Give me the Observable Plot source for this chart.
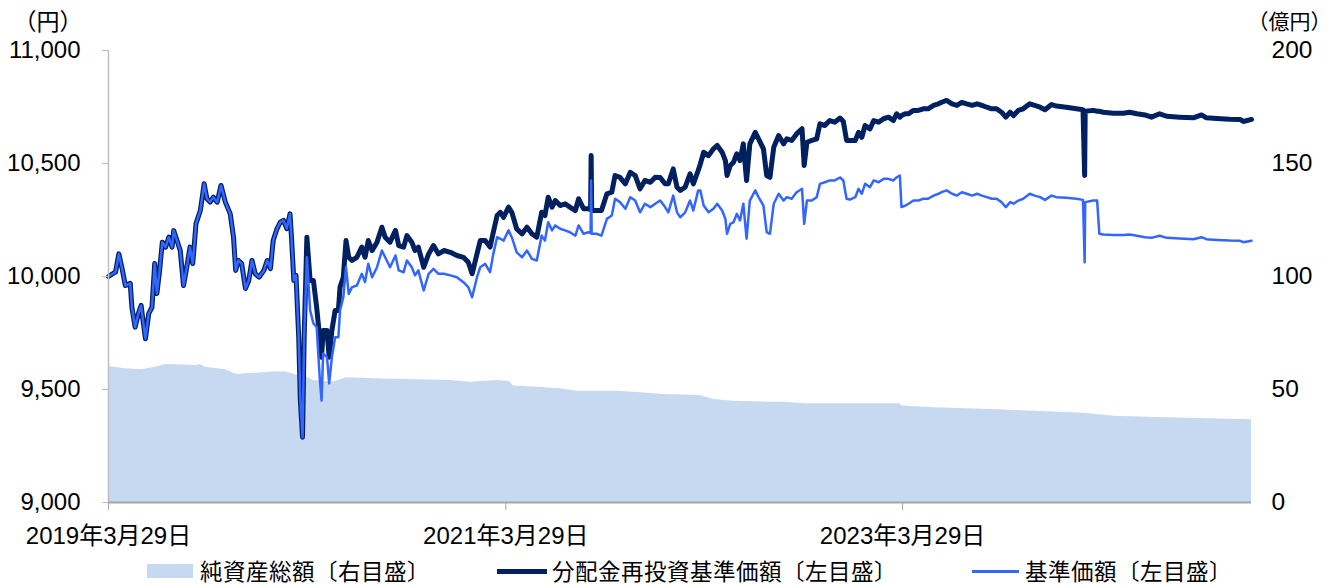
<!DOCTYPE html>
<html><head><meta charset="utf-8">
<script src="https://cdn.jsdelivr.net/npm/d3@7"></script>
<script src="https://cdn.jsdelivr.net/npm/@observablehq/plot@0.6"></script>
<style>
html,body{margin:0;padding:0;background:#fff;overflow:hidden;}
#wrap{position:relative;width:1332px;height:586px;overflow:hidden;background:#fff;}
#legend{position:relative;width:1332px;height:31px;font-family:"Noto Sans CJK JP","Liberation Sans",sans-serif;font-size:22.5px;color:#000;}
#legend .sw{position:absolute;}
#legend .tx{position:absolute;top:4px;height:22px;line-height:22px;white-space:nowrap;letter-spacing:0.5px;}
</style></head><body><div id="wrap"><div id="chart"></div><div id="legend"></div></div>
<script>
// ---- data ----
const seriesNames = ["純資産総額〔右目盛〕", "分配金再投資基準価額〔左目盛〕", "基準価額〔左目盛〕"];
const unitLeft = "（円）";
const unitRight = "（億円）";
const yTicksLeft = [9000, 9500, 10000, 10500, 11000];
const yTicksRight = [0, 50, 100, 150, 200];
const xTicks = ["2019-03-29", "2021-03-29", "2023-03-29"];
const xDomain = ["2019-03-29", "2024-12-30"];

const lineDates = [
"2019-03-29","2019-04-11","2019-04-17","2019-04-23","2019-04-29","2019-05-08","2019-05-11","2019-05-17","2019-05-23","2019-05-28",
"2019-05-31","2019-06-05","2019-06-11","2019-06-17","2019-06-22","2019-06-26","2019-07-01","2019-07-06","2019-07-12","2019-07-18",
"2019-07-24","2019-07-27","2019-08-02","2019-08-08","2019-08-14","2019-08-20","2019-08-26","2019-08-31","2019-09-06","2019-09-14",
"2019-09-21","2019-09-26","2019-10-02","2019-10-08","2019-10-15","2019-10-22","2019-10-30","2019-11-08","2019-11-14","2019-11-18",
"2019-11-23","2019-11-29","2019-12-06","2019-12-12","2019-12-18","2019-12-24","2019-12-31","2020-01-09","2020-01-15","2020-01-21",
"2020-01-26","2020-02-02","2020-02-08","2020-02-14","2020-02-20","2020-02-26","2020-02-29","2020-03-04","2020-03-08","2020-03-13",
"2020-03-16","2020-03-20","2020-03-23","2020-03-28","2020-04-03","2020-04-09","2020-04-15","2020-04-21","2020-04-24","2020-04-27",
"2020-05-04","2020-05-08","2020-05-13","2020-05-19","2020-05-25","2020-05-28","2020-06-03","2020-06-08","2020-06-13","2020-06-19",
"2020-06-28","2020-07-07","2020-07-13","2020-07-19","2020-07-26","2020-08-04","2020-08-13","2020-08-19","2020-08-28","2020-09-07",
"2020-09-13","2020-09-22","2020-09-28","2020-10-07","2020-10-13","2020-10-19","2020-10-29","2020-11-07","2020-11-16","2020-11-25",
"2020-12-05","2020-12-17","2020-12-29","2021-01-10","2021-01-19","2021-01-26","2021-02-04","2021-02-10","2021-02-19","2021-02-28",
"2021-03-06","2021-03-13","2021-03-19","2021-03-25","2021-04-03","2021-04-09","2021-04-18","2021-04-28","2021-05-07","2021-05-16",
"2021-05-25","2021-06-03","2021-06-09","2021-06-15","2021-06-22","2021-06-28","2021-07-07","2021-07-16","2021-07-25","2021-08-04",
"2021-08-10","2021-08-19","2021-08-28","2021-09-01","2021-09-02","2021-09-03","2021-09-12","2021-09-21","2021-10-01","2021-10-10",
"2021-10-16","2021-10-25","2021-11-04","2021-11-13","2021-11-22","2021-12-01","2021-12-10","2021-12-20","2021-12-29","2022-01-07",
"2022-01-16","2022-01-22","2022-01-31","2022-02-07","2022-02-13","2022-02-22","2022-03-03","2022-03-09","2022-03-18","2022-03-22",
"2022-03-28","2022-04-06","2022-04-15","2022-04-22","2022-05-01","2022-05-07","2022-05-10","2022-05-16","2022-05-22","2022-05-28",
"2022-06-03","2022-06-09","2022-06-15","2022-06-21","2022-07-01","2022-07-07","2022-07-16","2022-07-22","2022-07-28","2022-08-04",
"2022-08-13","2022-08-22","2022-08-28","2022-09-06","2022-09-15","2022-09-25","2022-09-29","2022-10-04","2022-10-13","2022-10-22",
"2022-10-28","2022-11-06","2022-11-15","2022-11-24","2022-12-04","2022-12-10","2022-12-16","2022-12-22","2023-01-01","2023-01-07",
"2023-01-13","2023-01-19","2023-01-28","2023-02-04","2023-02-13","2023-02-22","2023-03-03","2023-03-12","2023-03-18","2023-03-24",
"2023-03-27","2023-04-03","2023-04-09","2023-04-18","2023-04-27","2023-05-06","2023-05-15","2023-05-25","2023-06-03","2023-06-09",
"2023-06-18","2023-06-28","2023-07-07","2023-07-16","2023-07-25","2023-08-04","2023-08-13","2023-08-22","2023-08-31","2023-09-09",
"2023-09-18","2023-09-27","2023-10-05","2023-10-13","2023-10-19","2023-10-28","2023-11-06","2023-11-18","2023-11-27","2023-12-07",
"2023-12-16","2023-12-28","2024-01-06","2024-01-24","2024-02-12","2024-02-24","2024-02-27","2024-02-28","2024-03-14","2024-03-21",
"2024-03-25","2024-04-01","2024-04-20","2024-05-08","2024-05-20","2024-06-02","2024-06-17","2024-06-29","2024-07-14","2024-07-27",
"2024-08-20","2024-09-14","2024-09-29","2024-10-08","2024-10-27","2024-11-20","2024-12-09","2024-12-15","2024-12-30"];

const reinvestNav = [
10000,10020,10100,10035,9960,9970,9864,9776,9836,9872,
9814,9725,9836,9864,10057,9925,10026,10152,10130,10174,
10130,10203,10159,10115,9960,10041,10130,10057,10234,10292,
10410,10345,10329,10351,10329,10403,10329,10277,10174,10027,
10071,10057,9947,9982,10071,10012,9997,10027,10071,10035,
10159,10211,10240,10248,10212,10277,10160,9982,10005,9731,
9451,9289,9731,10174,9982,9982,9864,9717,9643,9761,
9761,9643,9761,9850,9850,9953,9997,10159,10085,10071,
10085,10130,10085,10159,10115,10152,10218,10174,10152,10204,
10137,10130,10181,10152,10115,10130,10041,10100,10137,10100,
10115,10107,10093,10085,10063,10012,10100,10159,10159,10130,
10196,10270,10284,10262,10307,10284,10211,10189,10218,10189,
10174,10284,10270,10351,10307,10336,10314,10322,10307,10292,
10344,10300,10300,10296,10535,10292,10292,10292,10366,10373,
10447,10439,10410,10461,10447,10388,10425,10417,10439,10438,
10410,10410,10476,10395,10381,10395,10454,10410,10469,10499,
10550,10535,10565,10580,10550,10513,10447,10491,10506,10543,
10513,10587,10425,10587,10638,10609,10565,10447,10439,10572,
10624,10587,10609,10602,10631,10654,10491,10594,10602,10609,
10676,10668,10690,10683,10701,10686,10602,10602,10602,10638,
10616,10668,10653,10690,10683,10698,10705,10690,10720,10705,
10712,10720,10720,10735,10735,10742,10742,10757,10764,10771,
10779,10764,10757,10771,10764,10757,10764,10757,10749,10742,
10742,10727,10705,10727,10712,10735,10742,10764,10757,10749,
10738,10761,10754,10749,10742,10738,10447,10731,10735,10731,
10731,10727,10722,10722,10727,10720,10715,10705,10720,10709,
10705,10702,10715,10702,10699,10696,10695,10686,10695];

const nav = [
10000,10020,10100,10035,9960,9970,9864,9776,9836,9872,
9814,9725,9836,9864,10057,9925,10026,10152,10130,10174,
10130,10203,10159,10115,9960,10041,10130,10057,10234,10292,
10410,10345,10329,10351,10329,10403,10329,10277,10174,10027,
10071,10057,9947,9982,10071,10012,9997,10027,10071,10035,
10159,10211,10240,10248,10212,10277,10160,9982,10005,9731,
9451,9289,9731,10085,9850,9792,9776,9540,9451,9659,
9643,9527,9643,9731,9731,9850,9908,10041,9923,9953,
9960,10012,9975,10056,9997,10041,10115,10085,10041,10093,
10027,10019,10071,10041,10005,10027,9938,10012,10034,10012,
10012,10005,9997,9975,9953,9908,9997,10041,10056,10019,
10100,10174,10167,10159,10204,10174,10107,10085,10115,10078,
10071,10181,10159,10240,10204,10226,10211,10204,10196,10181,
10226,10189,10196,10192,10425,10189,10189,10181,10255,10270,
10344,10329,10300,10351,10336,10284,10322,10307,10322,10336,
10307,10284,10358,10284,10262,10284,10336,10292,10381,10381,
10314,10284,10300,10322,10292,10255,10189,10233,10240,10277,
10248,10322,10167,10336,10381,10351,10314,10196,10189,10322,
10366,10336,10351,10344,10373,10388,10233,10336,10336,10351,
10410,10417,10425,10425,10438,10425,10344,10340,10351,10388,
10366,10410,10395,10425,10417,10432,10432,10425,10439,10447,
10307,10314,10322,10336,10336,10344,10344,10358,10366,10373,
10381,10366,10358,10373,10366,10358,10366,10358,10351,10344,
10344,10329,10307,10329,10322,10336,10344,10366,10358,10351,
10339,10358,10351,10348,10344,10339,10063,10329,10336,10336,
10189,10186,10184,10184,10186,10180,10174,10171,10180,10171,
10168,10165,10174,10165,10162,10159,10158,10152,10158];

const aumDates = [
"2019-03-29","2019-04-29","2019-05-29","2019-06-23","2019-07-12","2019-08-05","2019-09-08","2019-09-14","2019-09-23","2019-10-30",
"2019-11-20","2019-11-29","2019-12-24","2020-01-24","2020-02-20","2020-03-10","2020-03-28","2020-04-09","2020-05-15","2020-06-09",
"2020-08-15","2020-10-16","2020-12-17","2021-01-23","2021-03-13","2021-04-05","2021-04-12","2021-05-25","2021-07-07","2021-08-07",
"2021-10-19","2021-11-26","2022-01-13","2022-03-22","2022-04-15","2022-05-22","2022-07-22","2022-08-22","2022-09-28","2022-12-22",
"2023-03-23","2023-03-29","2023-05-25","2023-09-22","2024-02-24","2024-03-20","2024-04-20","2024-07-27","2024-12-28","2024-12-30"];
const aumValues = [
60.2,59.2,58.7,59.9,61.1,60.9,60.6,61.1,59.9,58.7,
56.6,56.9,57.2,57.7,57.7,56.2,55.4,54.0,53.2,55.2,
54.7,54.3,54.0,53.2,54.0,53.5,51.6,51.0,50.3,49.2,
49.2,48.7,47.8,47.3,45.6,44.8,44.4,44.4,43.7,43.7,
43.7,42.7,41.9,41.0,39.5,38.9,38.2,37.5,36.6,36.6];

// ---- colours ----
const cArea = "#C6D9F1", cDark = "#002060", cBlue = "#3366FF";

const parse = d3.utcParse("%Y-%m-%d");
const lineData = lineDates.map((d, i) => ({date: parse(d), reinvest: reinvestNav[i], nav: nav[i]}));
const aumData = aumDates.map((d, i) => ({date: parse(d), aum: aumValues[i]}));
const toLeft = v => 9000 + v * 10;   // right scale (億円) -> left scale (円)
const fmtDate = d => `${d.getUTCFullYear()}年${d.getUTCMonth() + 1}月${d.getUTCDate()}日`;
const FONT = '"Liberation Sans","Noto Sans CJK JP",sans-serif';
const CJK = '"Noto Sans CJK JP",sans-serif';

const chart = Plot.plot({
  width: 1332, height: 555,
  marginLeft: 108, marginRight: 81, marginTop: 50, marginBottom: 53,
  style: {fontFamily: FONT, fontSize: "24px", color: "#000", background: "#fff", overflow: "visible"},
  x: {type: "utc", domain: xDomain.map(parse), label: null},
  y: {domain: [9000, 11000], label: null},
  marks: [
    Plot.areaY(aumData, {x: "date", y1: 9000, y2: d => toLeft(d.aum), fill: cArea}),
    Plot.lineY(lineData, {x: "date", y: "reinvest", stroke: cDark, strokeWidth: 5}),
    Plot.lineY(lineData, {x: "date", y: "nav", stroke: cBlue, strokeWidth: 2.5}),
    Plot.ruleX([parse(xDomain[0])], {y1: 9000, y2: 11000, stroke: "#BFBFBF", strokeWidth: 1.5}),
    Plot.ruleY([9000], {stroke: "#A6A6A6", strokeWidth: 2}),
    Plot.axisY(yTicksLeft, {anchor: "left", tickSize: 6, tickPadding: 22, stroke: "#BFBFBF",
      tickFormat: d3.format(","), fontSize: 24, label: null}),
    Plot.axisY(yTicksRight.map(toLeft), {anchor: "right", tickSize: 0, tickPadding: 20,
      tickFormat: d => String((d - 9000) / 10), fontSize: 24.5, label: null}),
    Plot.axisX(xTicks.map(parse), {anchor: "bottom", tickSize: 8, tickPadding: 16, stroke: "#A6A6A6",
      tickFormat: fmtDate, fontSize: 24, label: null}),
    Plot.text([unitLeft], {text: d => d, frameAnchor: "top-left", dx: -95, dy: -28,
      textAnchor: "start", lineAnchor: "middle", fontSize: 23, fontFamily: CJK}),
    Plot.text([unitRight], {text: d => d, frameAnchor: "top-right", dx: -4, dy: -28,
      textAnchor: "start", lineAnchor: "middle", fontSize: 21, fontFamily: CJK})
  ]
});
document.getElementById("chart").appendChild(chart);

// ---- legend (below the svg) ----
const legend = d3.select("#legend");
const items = [
  {name: seriesNames[0], sw: {left: 147, top: 9, width: 46, height: 14, bg: cArea}, tx: 200},
  {name: seriesNames[1], sw: {left: 497, top: 13.5, width: 50, height: 5, bg: cDark}, tx: 552},
  {name: seriesNames[2], sw: {left: 972, top: 14.5, width: 47, height: 3, bg: cBlue}, tx: 1025}
];
for (const it of items) {
  legend.append("div").attr("class", "sw")
    .style("left", it.sw.left + "px").style("top", it.sw.top + "px")
    .style("width", it.sw.width + "px").style("height", it.sw.height + "px")
    .style("background", it.sw.bg);
  legend.append("div").attr("class", "tx").style("left", it.tx + "px").text(it.name);
}
</script></body></html>
